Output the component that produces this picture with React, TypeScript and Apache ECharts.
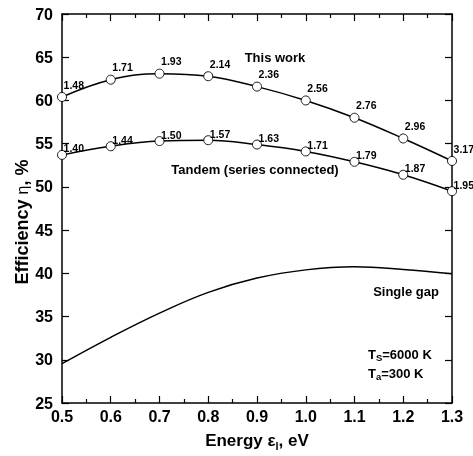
import React, { useEffect, useRef } from "react";
import * as echarts from "echarts";

const energy = [0.5, 0.6, 0.7, 0.8, 0.9, 1.0, 1.1, 1.2, 1.3];
const thisWork = [60.4, 62.4, 63.1, 62.8, 61.6, 60.0, 58.0, 55.6, 53.0];
const thisWorkGaps = ["1.48", "1.71", "1.93", "2.14", "2.36", "2.56", "2.76", "2.96", "3.17"];
const tandem = [53.7, 54.7, 55.3, 55.4, 54.9, 54.1, 52.9, 51.4, 49.5];
const tandemGaps = ["1.40", "1.44", "1.50", "1.57", "1.63", "1.71", "1.79", "1.87", "1.95"];
const singleGap = [29.55, 32.6, 35.4, 37.8, 39.45, 40.4, 40.75, 40.45, 39.95];

const FONT = "'Liberation Sans', Arial, Helvetica, sans-serif";

export default function App() {
  const ref = useRef<HTMLDivElement>(null);
  useEffect(() => {
    if (!ref.current) return;
    const chart = echarts.init(ref.current, undefined, { renderer: "svg" });
    const axisLine = { show: true, onZero: false, lineStyle: { color: "#000", width: 1.5 } };
    const tick = { show: true, inside: true, length: 7, lineStyle: { color: "#000", width: 1.2 } };
    const minorTick = { show: true, splitNumber: 2, length: 4, lineStyle: { color: "#000", width: 1.2 } };
    const pts = (ys: number[]) => energy.map((e, i) => [e, ys[i]]);
    const labelStyle = { fontFamily: FONT, fontSize: 10.5, fontWeight: "bold", color: "#000" };
    const annot = (x: number, y: number, text: string) => ({
      type: "text",
      x,
      y,
      style: {
        text,
        fontSize: 13,
        fontWeight: "bold",
        fontFamily: FONT,
        fill: "#000",
        align: "center",
        verticalAlign: "middle",
      },
    });
    const tempText = (y: number, text: string) => ({
      type: "text",
      x: 368,
      y,
      style: {
        text,
        align: "left",
        verticalAlign: "top",
        rich: {
          t: { fontSize: 13, fontWeight: "bold", fontFamily: FONT, fill: "#000", lineHeight: 16, verticalAlign: "middle" },
          s: { fontSize: 9.5, fontWeight: "bold", fontFamily: FONT, fill: "#000", lineHeight: 10, verticalAlign: "bottom" },
        },
      },
    });
    chart.setOption({
      animation: false,
      textStyle: { fontFamily: FONT },
      grid: { left: 62, right: 21, top: 14, bottom: 53 },
      xAxis: [
        {
          type: "value",
          min: 0.5,
          max: 1.3,
          interval: 0.1,
          position: "bottom",
          axisLine,
          axisTick: tick,
          minorTick,
          splitLine: { show: false },
          minorSplitLine: { show: false },
          axisLabel: {
            color: "#000",
            fontSize: 16,
            fontWeight: "bold",
            fontFamily: FONT,
            margin: 5,
            formatter: (v: number) => v.toFixed(1),
          },
          name: "Energy ε{sub|l}, eV",
          nameLocation: "middle",
          nameGap: 27,
          nameTextStyle: {
            color: "#000",
            fontSize: 17,
            fontWeight: "bold",
            fontFamily: FONT,
            verticalAlign: "top",
            rich: {
              sub: { fontSize: 11, fontWeight: "bold", fontFamily: FONT, color: "#000", padding: [10, 0, 0, 0] },
            },
          },
        },
        {
          type: "value",
          min: 0.5,
          max: 1.3,
          interval: 0.1,
          position: "top",
          axisLine,
          axisTick: tick,
          minorTick,
          splitLine: { show: false },
          axisLabel: { show: false },
        },
      ],
      yAxis: [
        {
          type: "value",
          min: 25,
          max: 70,
          interval: 5,
          position: "left",
          axisLine,
          axisTick: tick,
          splitLine: { show: false },
          axisLabel: { color: "#000", fontSize: 16, fontWeight: "bold", fontFamily: FONT, margin: 9 },
        },
        {
          type: "value",
          min: 25,
          max: 70,
          interval: 5,
          position: "right",
          axisLine,
          axisTick: tick,
          splitLine: { show: false },
          axisLabel: { show: false },
        },
      ],
      series: [
        {
          name: "This work",
          type: "line",
          data: pts(thisWork),
          smooth: 0.4,
          clip: false,
          symbol: "circle",
          symbolSize: 9,
          color: "#000",
          itemStyle: { color: "#fff", borderColor: "#000", borderWidth: 0.9 },
          lineStyle: { color: "#000", width: 1.5 },
          label: {
            show: true,
            position: [6.5, -13],
            ...labelStyle,
            formatter: (p: any) => thisWorkGaps[p.dataIndex],
          },
          z: 3,
        },
        {
          name: "Tandem",
          type: "line",
          data: pts(tandem),
          smooth: 0.4,
          clip: false,
          symbol: "circle",
          symbolSize: 9,
          color: "#000",
          itemStyle: { color: "#fff", borderColor: "#000", borderWidth: 0.9 },
          lineStyle: { color: "#000", width: 1.5 },
          label: {
            show: true,
            position: [6.5, -7],
            ...labelStyle,
            formatter: (p: any) => tandemGaps[p.dataIndex],
          },
          z: 3,
        },
        {
          name: "Single gap",
          type: "line",
          data: pts(singleGap),
          smooth: 0.4,
          symbol: "none",
          color: "#000",
          lineStyle: { color: "#000", width: 1.5 },
          z: 2,
        },
      ],
      graphic: [
        {
          type: "text",
          x: 22,
          y: 222,
          rotation: Math.PI / 2,
          style: {
            text: "{b|Efficiency }{g|η}{b|, %}",
            align: "center",
            verticalAlign: "middle",
            fill: "#000",
            rich: {
              b: { fontSize: 18, fontWeight: "bold", fontFamily: FONT, fill: "#000" },
              g: { fontSize: 16, fontFamily: FONT, fill: "#000" },
            },
          },
        },
        annot(275, 57, "This work"),
        annot(255, 169, "Tandem (series connected)"),
        annot(406, 291, "Single gap"),
        tempText(346, "{t|T}{s|S}{t|=6000 K}"),
        tempText(365, "{t|T}{s|a}{t|=300 K}"),
      ],
    });
    return () => chart.dispose();
  }, []);
  return <div ref={ref} style={{ position: "fixed", left: 0, top: 0, width: 473, height: 456 }} />;
}
